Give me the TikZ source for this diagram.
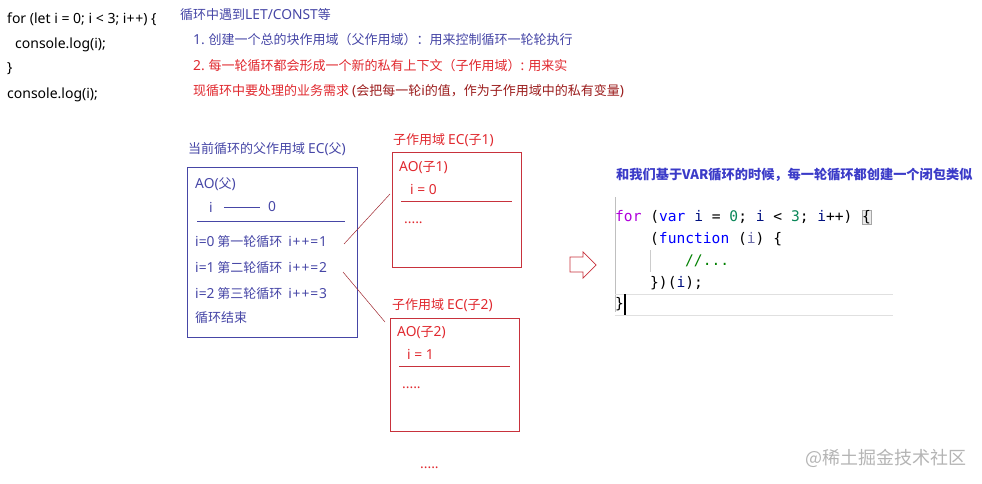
\documentclass[tikz,border=0pt]{standalone}
\usepackage{fontspec}
\setmainfont{Noto Sans CJK SC}
\newfontfamily\lat{Noto Sans}
\newfontfamily\codefont{DejaVu Sans Mono}
\definecolor{tblue}{HTML}{4646A6}
\definecolor{tred}{HTML}{E0282E}
\definecolor{tmaroon}{HTML}{9B1C1C}
\definecolor{bred}{HTML}{C8323C}
\definecolor{hblue}{HTML}{3B3BC8}
\definecolor{kwp}{HTML}{AF00DB}
\definecolor{kwb}{HTML}{0000FF}
\definecolor{idb}{HTML}{001080}
\definecolor{numg}{HTML}{098658}
\definecolor{cmtg}{HTML}{008000}
\definecolor{parg}{HTML}{6A6AA8}
\definecolor{wm}{HTML}{B4B4B4}
\newcommand{\lt}[1]{{\lat\fontsize{13.8}{15}\selectfont #1}}
\newcommand{\csp}{\hspace*{0.602em}}
\tikzset{
  txt/.style={anchor=west, inner sep=0pt, font=\fontsize{13}{15}\selectfont},
  ltxt/.style={anchor=west, inner sep=0pt, font=\lat\fontsize{14}{16}\selectfont},
  btxt/.style={txt, text=tblue},
  rtxt/.style={txt, text=tred},
  code/.style={anchor=west, inner sep=0pt, font=\codefont\fontsize{14.6}{17}\selectfont},
  pbox/.style={draw=tblue, line width=0.8pt, inner sep=0pt},
  cbox/.style={draw=bred, line width=0.8pt, inner sep=0pt},
  conn/.style={draw=bred!80!black, line width=0.5pt},
}
\begin{document}
\begin{tikzpicture}[x=1pt,y=-1pt]
\useasboundingbox (0,0) rectangle (982,484);
% left code
\node[ltxt] (lc1) at (7,19) {for (let i = 0; i < 3; i+\kern0.8pt+) \{};
\node[ltxt] (lc2) at (15,45) {console.log(i);};
\node[ltxt] (lc3) at (7,69) {\}};
\node[ltxt] (lc4) at (7,95) {console.log(i);};
% heading notes
\node[btxt] (h0) at (180,15) {循环中遇到\lt{LET/CONST}等};
\node[btxt] (h1) at (193,40) {\lt{1.} 创建一个总的块作用域（父作用域）：用来控制循环一轮轮执行};
\node[rtxt] (h2) at (193,66) {\lt{2.} 每一轮循环都会形成一个新的私有上下文（子作用域）\lt{:} 用来实};
\node[rtxt] (h3) at (193,91) {现循环中要处理的业务需求\ \textcolor{tmaroon}{\lt{(}会把每一轮\lt{i}的值，作为子作用域中的私有变量\lt{)}}};
% parent
\node[btxt] (ptitle) at (188,149) {当前循环的父作用域 \lt{EC(}父\lt{)}};
\node[pbox, minimum width=170pt, minimum height=170pt] (pbox) at (272,252) {};
\node[btxt] (pao) at (195,184) {\lt{AO(}父\lt{)}};
\node[btxt] (pi) at (209,207) {\lt{i}};
\node[btxt] (p0) at (268,207) {\lt{0}};
\draw[tblue, line width=0.6pt] (pi.east) ++(11,0) coordinate (pl1) -- ++(36,0) coordinate (pl2);
\coordinate (ps1) at (197,221);
\coordinate (ps2) at (345,221);
\draw[tblue, line width=0.8pt] (ps1) -- (ps2);
\node[btxt] (pr1) at (195,242) {\lt{i=0} 第一轮循环\ \ \lt{i\kern0.8pt+\kern1pt+\kern1pt=\kern0.8pt1}};
\node[btxt] (pr2) at (195,268) {\lt{i=1} 第二轮循环\ \ \lt{i\kern0.8pt+\kern1pt+\kern1pt=\kern0.8pt2}};
\node[btxt] (pr3) at (195,294) {\lt{i=2} 第三轮循环\ \ \lt{i\kern0.8pt+\kern1pt+\kern1pt=\kern0.8pt3}};
\node[btxt] (pr4) at (195,318) {循环结束};
% child 1
\node[rtxt] (c1title) at (393,140) {子作用域 \lt{EC(}子\lt{1)}};
\node[cbox, minimum width=129pt, minimum height=115pt] (c1) at (456.5,209.5) {};
\node[rtxt] (c1ao) at (399,168) {\lt{AO(}子\lt{1)}};
\node[rtxt] (c1i) at (410,189) {\lt{i = 0}};
\coordinate (c1s1) at (401,201);
\coordinate (c1s2) at (512,201);
\draw[bred, line width=0.8pt] (c1s1) -- (c1s2);
\node[rtxt] (c1d) at (404,223) {\lt{.....}};
% child 2
\node[rtxt] (c2title) at (392,305) {子作用域 \lt{EC(}子\lt{2)}};
\node[cbox, minimum width=129pt, minimum height=113pt] (c2) at (454.5,374.5) {};
\node[rtxt] (c2ao) at (397,333) {\lt{AO(}子\lt{2)}};
\node[rtxt] (c2i) at (407,354) {\lt{i = 1}};
\coordinate (c2s1) at (399,366);
\coordinate (c2s2) at (510,366);
\draw[bred, line width=0.8pt] (c2s1) -- (c2s2);
\node[rtxt] (c2d) at (402,388) {\lt{.....}};
\node[rtxt] (more) at (420,468) {\lt{.....}};
% connectors
\coordinate (k1a) at (344,244);
\coordinate (k1b) at (390,194);
\coordinate (k2a) at (343,272);
\coordinate (k2b) at (385,322);
\draw[conn] (k1a) -- (k1b);
\draw[conn] (k2a) -- (k2b);
% hollow arrow
\draw[bred, line width=0.7pt, fill=white] (570,257) -- (583,257) -- (583,252) -- (596,265) -- (583,278) -- (583,272) -- (570,272) -- cycle;
% right heading
\node[txt, text=hblue, font=\bfseries\fontsize{13.2}{15}\selectfont] (rh) at (616,175) {和我们基于VAR循环的时候，每一轮循环都创建一个闭包类似};
% code block
\draw[black!25, line width=0.8pt] (615,197) -- (615,312);
\draw[black!20, line width=0.6pt] (650,250) -- (650,272);
\draw[black!12, line width=1pt] (615,294) -- (893,294);
\draw[black!12, line width=1pt] (615,315) -- (893,315);
\node[code] (cl1) at (615,217) {\textcolor{kwp}{for}\csp(\textcolor{kwb}{var}\csp\textcolor{idb}{i}\csp=\csp\textcolor{numg}{0};\csp\textcolor{idb}{i}\csp<\csp\textcolor{numg}{3};\csp\textcolor{idb}{i}++)\csp};
\node[code, draw=black!35, fill=black!8, inner sep=0.5pt, anchor=west] (cbr) at (cl1.east) {\{};
\node[code] (cl2) at (650,239) {(\textcolor{kwb}{function}\csp(\textcolor{parg}{i})\csp\{};
\node[code, text=cmtg] (cl3) at (685,261) {//...};
\node[code] (cl4) at (650,283) {\})(\textcolor{idb}{i});};
\node[code] (cl5) at (615,304) {\}};
\draw[black, line width=1.6pt] (cl5.east) ++(1,-10) coordinate (cur1) -- ++(0,21) coordinate (cur2);
% watermark
\node[txt, text=wm, font=\fontsize{18}{20}\selectfont] (wm) at (805,458) {@稀土掘金技术社区};
\end{tikzpicture}
\end{document}
